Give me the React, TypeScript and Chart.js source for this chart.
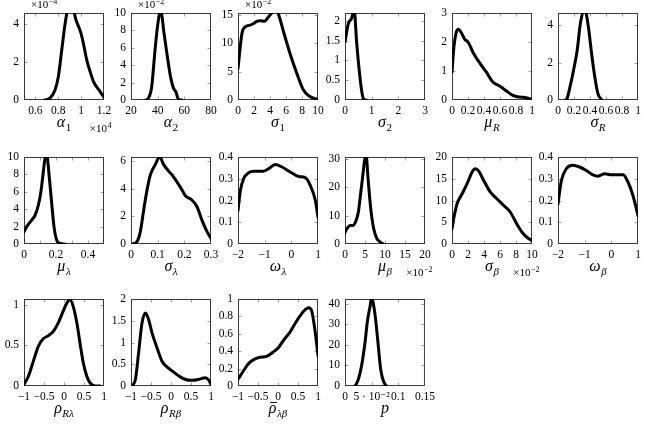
import React, { useEffect, useRef } from "react";
import { Chart, registerables } from "chart.js";

Chart.register(...registerables);

// ---------------- data ----------------
const alpha1X = [0.68, 0.725, 0.77, 0.8, 0.83, 0.86, 0.885, 0.93, 0.955, 0.995, 1.02, 1.05, 1.08, 1.11, 1.16, 1.2];
const alpha1Y = [0, 0.09, 0.5, 1.2, 2.6, 4.0, 4.7, 4.7, 4.18, 3.56, 2.95, 2.07, 1.46, 0.93, 0.49, 0.14];
const alpha1XTicks = [0.6, 0.8, 1, 1.2];
const alpha1YTicks = [0, 2, 4];

const alpha2X = [31, 33, 35.5, 38, 40, 42.3, 44.75, 47.25, 49.75, 51.75, 53.75, 55.5, 58];
const alpha2Y = [0, 0.2, 1.5, 5.7, 8.6, 10.3, 7.7, 5, 2.6, 1.4, 0.9, 0.1, 0];
const alpha2XTicks = [20, 40, 60, 80];
const alpha2YTicks = [0, 2, 4, 6, 8, 10];

const sigma1X = [0, 0.5, 0.9, 1.5, 1.95, 2.4, 2.8, 3.3, 4.0, 4.5, 4.9, 5.2, 5.7, 6.5, 7.35, 8.2, 9.0, 10];
const sigma1Y = [5.6, 11.8, 12.9, 13.2, 13.5, 13.9, 14, 13.9, 15, 15.6, 15.6, 14.5, 12, 8.2, 4.7, 1.7, 0.6, 0.1];
const sigma1XTicks = [0, 2, 4, 6, 8, 10];
const sigma1YTicks = [0, 5, 10, 15];

const sigma2X = [0, 0.125, 0.25, 0.34, 0.44, 0.56, 0.66, 0.72, 0.8];
const sigma2Y = [1.47, 1.93, 2.07, 2.3, 1.43, 0.58, 0.1, 0, 0];
const sigma2XTicks = [0, 1, 2, 3];
const sigma2YTicks = [0, 0.5, 1, 1.5, 2];

const muRX = [0, 0.02, 0.05, 0.08, 0.12, 0.16, 0.2, 0.27, 0.35, 0.43, 0.51, 0.6, 0.68, 0.76, 0.85, 0.93, 1];
const muRY = [0.96, 1.72, 2.3, 2.44, 2.3, 2.09, 2.0, 1.6, 1.26, 0.96, 0.62, 0.47, 0.31, 0.16, 0.1, 0.08, 0.02];
const unitXTicks = [0, 0.2, 0.4, 0.6, 0.8, 1];
const muRYTicks = [0, 1, 2, 3];

const sigmaRX = [0.09, 0.11, 0.15, 0.19, 0.24, 0.28, 0.32, 0.34, 0.38, 0.42, 0.46, 0.5, 0.55];
const sigmaRY = [0, 0.05, 0.7, 1.5, 2.66, 4.1, 4.75, 4.75, 3.9, 2.48, 1.23, 0.33, 0];
const sigmaRYTicks = [0, 2, 4];

const muLambdaX = [0, 0.017, 0.048, 0.069, 0.09, 0.104, 0.117, 0.131, 0.142, 0.158, 0.173, 0.1875, 0.204, 0.225, 0.256];
const muLambdaY = [1.4, 2.0, 2.75, 3.3, 4.5, 5.8, 7.7, 9.8, 10.2, 7.7, 4.7, 2.0, 0.45, 0.08, 0];
const muLambdaXTicks = [0, 0.1, 0.2, 0.3, 0.4];
const muLambdaXLabels = ["0", "", "0.2", "", "0.4"];
const muLambdaYTicks = [0, 2, 4, 6, 8, 10];

const sigmaLambdaX = [0.004, 0.0225, 0.035, 0.0475, 0.06, 0.0725, 0.091, 0.1075, 0.1225, 0.141, 0.16, 0.185, 0.204, 0.229, 0.2475, 0.266, 0.285, 0.3];
const sigmaLambdaY = [0, 0.17, 0.9, 2.45, 3.9, 5.0, 5.75, 6.3, 5.75, 5.28, 4.85, 4.12, 3.5, 3.17, 2.7, 1.73, 0.9, 0.4];
const sigmaLambdaXTicks = [0, 0.1, 0.2, 0.3];
const sigmaLambdaYTicks = [0, 2, 4, 6];

const omegaLambdaX = [-2, -1.91, -1.79, -1.6, -1.41, -1.04, -0.85, -0.6, -0.35, -0.04, 0.275, 0.525, 0.71, 0.9, 1];
const omegaLambdaY = [0.154, 0.246, 0.3, 0.328, 0.335, 0.335, 0.346, 0.365, 0.354, 0.331, 0.31, 0.305, 0.27, 0.2, 0.123];
const omegaXTicks = [-2, -1, 0, 1];
const omegaYTicks = [0, 0.1, 0.2, 0.3, 0.4];

const muBetaX = [0, 0.58, 1.25, 1.9, 2.75, 3.33, 3.9, 4.4, 4.9, 5.25, 5.8, 6.4, 7.1, 7.9, 8.9, 9.6];
const muBetaY = [4.1, 5.6, 6.5, 6.5, 8.2, 11.2, 17.6, 23.5, 29.4, 31.5, 22.4, 12.9, 5.9, 2.1, 0.6, 0];
const muBetaXTicks = [0, 5, 10, 15, 20];
const muBetaYTicks = [0, 10, 20, 30];

const sigmaBetaX = [0, 0.21, 0.625, 1.25, 1.875, 2.5, 2.92, 3.33, 3.96, 4.8, 5.6, 6.46, 7.3, 8.1, 8.75, 9.4, 10];
const sigmaBetaY = [3.5, 5.8, 9.2, 11.5, 13.8, 16.5, 17.3, 16.8, 14.6, 11.9, 10.4, 8.85, 7.3, 4.6, 2.7, 1.5, 0.77];
const sigmaBetaXTicks = [0, 2, 4, 6, 8, 10];
const sigmaBetaYTicks = [0, 5, 10, 15, 20];

const omegaBetaX = [-2, -1.875, -1.69, -1.44, -1.19, -0.94, -0.69, -0.5, -0.25, 0, 0.25, 0.44, 0.625, 0.81, 1];
const omegaBetaY = [0.185, 0.29, 0.346, 0.362, 0.354, 0.338, 0.318, 0.312, 0.323, 0.318, 0.318, 0.318, 0.285, 0.223, 0.13];

const rhoRLX = [-1, -0.89, -0.77, -0.64, -0.52, -0.39, -0.27, -0.14, -0.02, 0.07, 0.15, 0.23, 0.32, 0.4, 0.48, 0.57, 0.65, 0.775, 0.9];
const rhoRLY = [0.02, 0.12, 0.3, 0.49, 0.58, 0.62, 0.67, 0.78, 0.92, 1.02, 1.06, 0.98, 0.78, 0.53, 0.29, 0.12, 0.04, 0, 0];
const rhoXTicks = [-1, -0.5, 0, 0.5, 1];
const rhoRLYTicks = [0, 0.5, 1];

const rhoRBX = [-0.975, -0.89, -0.81, -0.725, -0.64, -0.56, -0.475, -0.35, -0.225, -0.1, 0.067, 0.23, 0.36, 0.525, 0.69, 0.86, 0.94, 1];
const rhoRBY = [0, 0.15, 0.76, 1.45, 1.68, 1.53, 1.22, 0.88, 0.57, 0.44, 0.32, 0.21, 0.15, 0.13, 0.15, 0.19, 0.14, 0.04];
const rhoRBYTicks = [0, 0.5, 1, 1.5, 2];

const rhoLBX = [-1, -0.87, -0.75, -0.62, -0.45, -0.29, -0.12, 0.01, 0.13, 0.3, 0.47, 0.64, 0.765, 0.85, 0.93, 1];
const rhoLBY = [0.077, 0.17, 0.25, 0.3, 0.33, 0.34, 0.39, 0.44, 0.52, 0.62, 0.75, 0.86, 0.9, 0.85, 0.62, 0.35];
const rhoLBYTicks = [0, 0.2, 0.4, 0.6, 0.8, 1];

const pX = [0.019, 0.025, 0.031, 0.0375, 0.042, 0.047, 0.05, 0.053, 0.0575, 0.0625, 0.067, 0.072, 0.078];
const pY = [0, 3.2, 9.7, 21, 31.5, 38.7, 43, 40.3, 32.3, 19.4, 8, 2.4, 0];
const pXTicks = [0, 0.05, 0.1, 0.15];
const pXLabels = ["0", "5 \u00b7 10\u207b\u00b2", "0.1", "0.15"];
const pYTicks = [0, 10, 20, 30, 40];

// ---------------- layout ----------------
const COL_LEFT = [24, 131, 238, 345, 452, 558];
const ROW_TOP = [13, 157, 299];
const TITLE_DY = 27;
const AXW = 30, PADT = 13, PW = 80, PH = 87, PADR = 14, XAH = 16, PADB = 24;
const CW = AXW + PW + PADR;
const CH = PADT + PH + XAH + PADB;
const FONT = "'Liberation Serif', 'DejaVu Serif', serif";

type PanelDef = {
  xs: number[]; ys: number[];
  xr: [number, number]; yr: [number, number];
  xt: number[]; yt: number[]; xl?: string[];
  sym: string; sub: string; bar?: boolean;
  col: number; row: number;
  topExp?: string; botExp?: string;
};

const panels: PanelDef[] = [
  { xs: alpha1X, ys: alpha1Y, xr: [0.5, 1.2], yr: [0, 4.55], xt: alpha1XTicks, yt: alpha1YTicks, sym: "\u03b1", sub: "1", col: 0, row: 0, topExp: "\u22124", botExp: "4" },
  { xs: alpha2X, ys: alpha2Y, xr: [20, 80], yr: [0, 10], xt: alpha2XTicks, yt: alpha2YTicks, sym: "\u03b1", sub: "2", col: 1, row: 0, topExp: "\u22122" },
  { xs: sigma1X, ys: sigma1Y, xr: [0, 10], yr: [0, 15.35], xt: sigma1XTicks, yt: sigma1YTicks, sym: "\u03c3", sub: "1", col: 2, row: 0, topExp: "\u22122" },
  { xs: sigma2X, ys: sigma2Y, xr: [0, 3], yr: [0, 2.2], xt: sigma2XTicks, yt: sigma2YTicks, sym: "\u03c3", sub: "2", col: 3, row: 0 },
  { xs: muRX, ys: muRY, xr: [0, 1], yr: [0, 3], xt: unitXTicks, yt: muRYTicks, sym: "\u03bc", sub: "R", col: 4, row: 0 },
  { xs: sigmaRX, ys: sigmaRY, xr: [0, 1], yr: [0, 4.65], xt: unitXTicks, yt: sigmaRYTicks, sym: "\u03c3", sub: "R", col: 5, row: 0 },
  { xs: muLambdaX, ys: muLambdaY, xr: [0, 0.5], yr: [0, 10], xt: muLambdaXTicks, xl: muLambdaXLabels, yt: muLambdaYTicks, sym: "\u03bc", sub: "\u03bb", col: 0, row: 1 },
  { xs: sigmaLambdaX, ys: sigmaLambdaY, xr: [0, 0.3], yr: [0, 6.3], xt: sigmaLambdaXTicks, yt: sigmaLambdaYTicks, sym: "\u03c3", sub: "\u03bb", col: 1, row: 1 },
  { xs: omegaLambdaX, ys: omegaLambdaY, xr: [-2, 1], yr: [0, 0.4], xt: omegaXTicks, yt: omegaYTicks, sym: "\u03c9", sub: "\u03bb", col: 2, row: 1 },
  { xs: muBetaX, ys: muBetaY, xr: [0, 20], yr: [0, 30.6], xt: muBetaXTicks, yt: muBetaYTicks, sym: "\u03bc", sub: "\u03b2", col: 3, row: 1, botExp: "\u22122" },
  { xs: sigmaBetaX, ys: sigmaBetaY, xr: [0, 10], yr: [0, 20], xt: sigmaBetaXTicks, yt: sigmaBetaYTicks, sym: "\u03c3", sub: "\u03b2", col: 4, row: 1, botExp: "\u22122" },
  { xs: omegaBetaX, ys: omegaBetaY, xr: [-2, 1], yr: [0, 0.4], xt: omegaXTicks, yt: omegaYTicks, sym: "\u03c9", sub: "\u03b2", col: 5, row: 1 },
  { xs: rhoRLX, ys: rhoRLY, xr: [-1, 1], yr: [0, 1.07], xt: rhoXTicks, yt: rhoRLYTicks, sym: "\u03c1", sub: "R\u03bb", col: 0, row: 2 },
  { xs: rhoRBX, ys: rhoRBY, xr: [-1, 1], yr: [0, 2], xt: rhoXTicks, yt: rhoRBYTicks, sym: "\u03c1", sub: "R\u03b2", col: 1, row: 2 },
  { xs: rhoLBX, ys: rhoLBY, xr: [-1, 1], yr: [0, 1], xt: rhoXTicks, yt: rhoLBYTicks, sym: "\u03c1", sub: "\u03bb\u03b2", bar: true, col: 2, row: 2 },
  { xs: pX, ys: pY, xr: [0, 0.15], yr: [0, 42.3], xt: pXTicks, xl: pXLabels, yt: pYTicks, sym: "p", sub: "", col: 3, row: 2 },
];

const fmt = (v: number) => String(v).replace("-", "\u2212");

function drawExp(ctx: CanvasRenderingContext2D, x: number, y: number, sup: string, align: "left" | "right") {
  ctx.save();
  ctx.fillStyle = "#000";
  ctx.textBaseline = "alphabetic";
  ctx.textAlign = "left";
  ctx.font = `11px ${FONT}`;
  const base = "\u00d710";
  const w1 = ctx.measureText(base).width;
  ctx.font = `8px ${FONT}`;
  const w2 = ctx.measureText(sup).width;
  const x0 = align === "left" ? x : x - w1 - w2;
  ctx.font = `11px ${FONT}`;
  ctx.fillText(base, x0, y);
  ctx.font = `8px ${FONT}`;
  ctx.fillText(sup, x0 + w1 + 0.5, y - 4.5);
  ctx.restore();
}

function drawTitle(ctx: CanvasRenderingContext2D, cx: number, y: number, sym: string, sub: string, bar?: boolean) {
  ctx.save();
  ctx.fillStyle = "#000";
  ctx.textBaseline = "alphabetic";
  ctx.textAlign = "left";
  const f1 = `italic 16px ${FONT}`;
  const subItalic = !/^[0-9]+$/.test(sub);
  const f2 = `${subItalic ? "italic " : ""}11px ${FONT}`;
  ctx.font = f1;
  const w1 = ctx.measureText(sym).width;
  ctx.font = f2;
  const w2 = sub ? ctx.measureText(sub).width + 0.5 : 0;
  const x0 = cx - (w1 + w2) / 2;
  ctx.font = f1;
  ctx.fillText(sym, x0, y);
  if (bar) {
    ctx.strokeStyle = "#000";
    ctx.lineWidth = 0.9;
    ctx.beginPath();
    ctx.moveTo(x0 + 1.5, y - 10.5);
    ctx.lineTo(x0 + w1 + 0.5, y - 10.5);
    ctx.stroke();
  }
  if (sub) {
    ctx.font = f2;
    ctx.fillText(sub, x0 + w1 + 0.5, y + 3.5);
  }
  ctx.restore();
}

function makeFramePlugin(p: PanelDef) {
  return {
    id: "pgfFrame",
    beforeDatasetsDraw(chart: any) {
      const { ctx, chartArea: a, scales } = chart;
      ctx.save();
      ctx.strokeStyle = "#a0a0a0";
      ctx.lineWidth = 1;
      const tl = 3.5;
      ctx.beginPath();
      for (const v of p.xt) {
        const px = Math.round(scales.x.getPixelForValue(v)) + 0.5;
        if (px < a.left + 1.5 || px > a.right - 1.5) continue;
        ctx.moveTo(px, a.bottom);
        ctx.lineTo(px, a.bottom - tl);
        ctx.moveTo(px, a.top);
        ctx.lineTo(px, a.top + tl);
      }
      for (const v of p.yt) {
        const py = Math.round(scales.y.getPixelForValue(v)) + 0.5;
        if (py < a.top + 1.5 || py > a.bottom - 1.5) continue;
        ctx.moveTo(a.left, py);
        ctx.lineTo(a.left + tl, py);
        ctx.moveTo(a.right, py);
        ctx.lineTo(a.right - tl, py);
      }
      ctx.stroke();
      ctx.strokeStyle = "#3a3a3a";
      ctx.strokeRect(a.left + 0.5, a.top + 0.5, a.right - a.left - 1, a.bottom - a.top - 1);
      ctx.restore();
    },
    afterDraw(chart: any) {
      const { ctx, chartArea: a } = chart;
      drawTitle(ctx, (a.left + a.right) / 2, a.bottom + TITLE_DY, p.sym, p.sub, p.bar);
      if (p.topExp) drawExp(ctx, a.left + 7, a.top - 5, p.topExp, "left");
      if (p.botExp) drawExp(ctx, a.right + 7, a.bottom + 32, p.botExp, "right");
    },
  };
}

function Panel({ p }: { p: PanelDef }) {
  const ref = useRef<HTMLCanvasElement>(null);
  useEffect(() => {
    if (!ref.current) return;
    const tickFont = { family: FONT, size: 11.5 };
    const chart = new Chart(ref.current, {
      type: "line",
      data: {
        datasets: [
          {
            data: p.xs.map((x, i) => ({ x, y: p.ys[i] })),
            borderColor: "#000",
            borderWidth: 3,
            pointRadius: 0,
            fill: false,
            cubicInterpolationMode: "monotone",
            borderCapStyle: "round",
            borderJoinStyle: "round",
          },
        ],
      },
      options: {
        animation: false,
        responsive: false,
        devicePixelRatio: 1,
        events: [],
        layout: { padding: { left: 0, top: PADT, right: PADR, bottom: PADB } },
        plugins: { legend: { display: false }, tooltip: { enabled: false } },
        scales: {
          x: {
            type: "linear",
            min: p.xr[0],
            max: p.xr[1],
            grid: { display: false, drawTicks: false },
            border: { display: false },
            ticks: {
              autoSkip: false,
              maxRotation: 0,
              minRotation: 0,
              padding: 4,
              color: "#000",
              font: tickFont,
              callback: (v: any, i: number) => (p.xl ? p.xl[i] : fmt(p.xt[i])),
            },
            afterBuildTicks: (s: any) => {
              s.ticks = p.xt.map((v) => ({ value: v }));
            },
            afterFit: (s: any) => {
              s.height = XAH;
            },
          },
          y: {
            type: "linear",
            min: p.yr[0],
            max: p.yr[1],
            grid: { display: false, drawTicks: false },
            border: { display: false },
            ticks: {
              autoSkip: false,
              padding: 5,
              color: "#000",
              font: tickFont,
              callback: (v: any, i: number) => fmt(p.yt[i]),
            },
            afterBuildTicks: (s: any) => {
              s.ticks = p.yt.map((v) => ({ value: v }));
            },
            afterFit: (s: any) => {
              s.width = AXW;
            },
          },
        },
      } as any,
      plugins: [makeFramePlugin(p)],
    });
    return () => chart.destroy();
  }, [p]);
  return (
    <canvas
      ref={ref}
      width={CW}
      height={CH}
      style={{
        position: "absolute",
        left: COL_LEFT[p.col] - AXW,
        top: ROW_TOP[p.row] - PADT,
        width: CW,
        height: CH,
      }}
    />
  );
}

export default function App() {
  return (
    <div style={{ position: "absolute", left: 0, top: 0, width: 646, height: 426, background: "#fff", overflow: "hidden" }}>
      {panels.map((p, i) => (
        <Panel key={i} p={p} />
      ))}
    </div>
  );
}
